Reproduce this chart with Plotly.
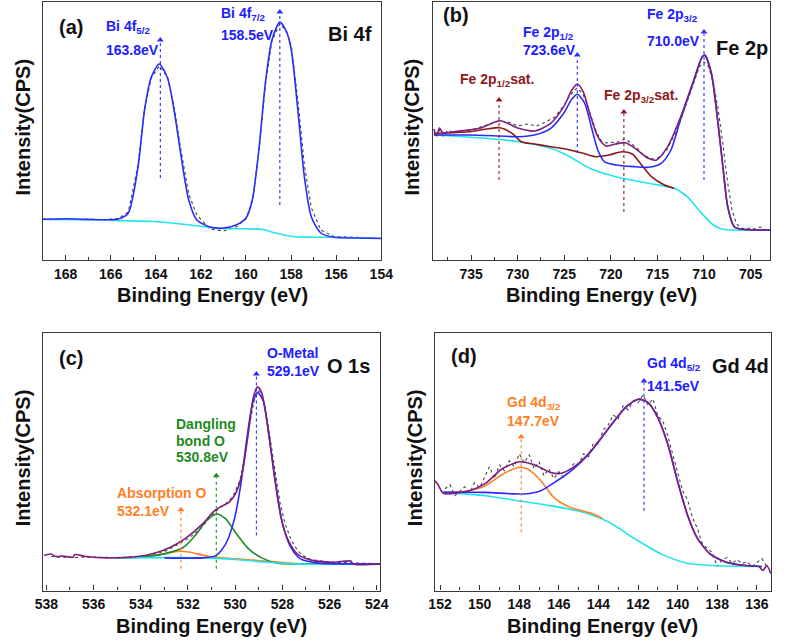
import plotly.graph_objects as go

# ---------------- (a) Bi 4f ----------------
bi_e_fit = [169, 168, 167, 166.2, 165.65, 165.22, 164.79, 164.5, 164.2, 163.85,
            163.48, 163.19, 162.9, 162.54, 162.18, 161.6, 161.0, 160.44, 160.0, 159.72,
            159.43, 159.14, 158.85, 158.5, 158.2, 157.99, 157.7, 157.41, 157.1, 156.68,
            156.1, 155, 154]
bi_fit = [40.7, 41.2, 40.6, 40.3, 41, 47, 93, 150, 183, 196,
          182, 150, 107, 60, 40, 33, 32, 35, 42, 60,
          110, 177, 220, 238, 228, 210, 150, 83, 43, 27,
          22.7, 22, 21.5]
bi_data = [41, 41, 40.5, 40.5, 41.5, 48, 95, 151, 182, 194,
           183, 153, 112, 66, 45, 31, 29, 33, 41, 59,
           108, 175, 219, 236, 229, 214, 160, 95, 52, 30,
           23.5, 22.3, 21.5]
bi_e_bg = [169, 166, 165.8, 164.1, 163.1, 162.47, 161.3, 160.2, 159.29, 158.7, 157.84, 157, 156.1, 154]
bi_bg = [40.5, 40, 39.5, 38.5, 36.5, 35, 31.8, 31.2, 30.7, 27, 23.3, 22.8, 22.7, 21.7]
bi_peaks = [163.8, 158.5]

# ---------------- (b) Fe 2p ----------------
fe_e_sum = [739, 738.7, 738.4, 738.0, 736.9, 734.1, 731.9, 729.9, 728.2, 726.45, 725.06, 724.19, 723.6,
            722.97, 722.27, 721.4, 720.53, 719.48, 718.43, 717.39, 715.99, 715.1, 713.9,
            712.5, 711.1, 710.2, 709.9, 709.2, 708.7, 707.97, 707.45, 706.75, 705.9, 702.9]
fe_sum = [131, 124, 132, 127, 128.3, 131.7, 139.3, 131.7, 129, 136.7, 153.3, 170, 176,
          168.3, 146.7, 123.3, 114, 116, 117.3, 111.7, 101.7, 100, 113.3,
          143.3, 180, 203.3, 205, 186.7, 153.3, 93.3, 53.3, 33.3, 30.7, 30]
fe_e_main = [739, 735.2, 732, 729.9, 728.2, 726.45, 725.06, 724.19, 723.6, 722.8,
             722.1, 721.4, 720.7, 719.48, 717.39, 715.99, 714.6, 713.55, 712.5, 711.1,
             710.2, 709.9, 709.2, 708.7, 707.97, 707.45, 706.75, 705.9, 702.9]
fe_main = [125, 125, 124, 123.3, 125, 131.7, 146.7, 160.7, 165.7, 156.7,
           133.3, 110, 98.3, 95, 93.3, 92.7, 96.7, 110, 141, 179,
           203, 204.5, 186, 153, 93, 53, 33, 30.7, 30]
fe_e_sat = [739, 735.2, 733.5, 731.9, 730.6, 729.6, 728.2, 726.45, 724.7, 722.97,
            721.6, 720.2, 718.8, 717.7, 716.7, 715.65, 714.25, 713.2]
fe_sat = [126.7, 128.3, 130.7, 132.3, 126.7, 118.3, 116, 113.3, 110.7, 106.7,
          103.3, 105, 108.3, 106, 95, 83.3, 75, 71.7]
fe_e_bg = [739, 733.5, 729.9, 726.45, 724.4, 722.27, 719.48, 715.99, 713.2, 711.8, 710.4, 709, 707.97, 702.9]
fe_bg = [125, 121.7, 118.3, 111.7, 103.3, 91.7, 83.3, 76.7, 71.7, 63.3, 48.3, 35, 30.7, 30]
fe_e_data = [738.5, 738, 737.5, 737, 736, 735, 734, 733, 732, 731, 730, 729, 728, 727, 726,
             725, 724.5, 724, 723.6, 723, 722.5, 722, 721.5, 721, 720.5, 720, 719.5, 719, 718.5,
             718, 717.5, 717, 716.5, 716, 715.5, 715, 714.5, 714, 713, 712.5, 712, 711.5, 711,
             710.5, 710, 709.5, 709, 708.5, 708, 707.5, 707, 706.5, 706, 705.5, 705, 704.5, 704,
             703.5, 703]
fe_data = [131, 124, 130, 128, 129, 130, 133, 136, 139, 138, 134, 136, 134, 138, 143,
           155, 163, 169, 172, 166, 155, 140, 127, 119, 117, 118, 117, 119, 121,
           118, 114, 110, 105, 103, 101, 102, 105, 110, 128, 140, 153, 166, 180,
           193, 198, 193, 178, 152, 118, 80, 50, 36, 32, 31, 32, 31, 33,
           31, 30]
fe_peaks = [723.6, 710.0]
fe_sat_peaks = [732.0, 718.6]

# ---------------- (c) O 1s ----------------
o_e_sum = [538.1, 537.8, 537.6, 537.3, 536.87, 536.8, 536.3, 535.49, 534.12, 533.43, 532.74, 532.05, 531.36,
           530.95, 530.67, 530.26, 529.99, 529.71, 529.43, 529.23, 529.05, 528.88, 528.61,
           528.33, 528.06, 527.78, 527.37, 526.82, 525.86, 525.1, 525.0, 523.86]
o_sum = [35, 36.5, 34, 34.5, 33.3, 36, 34, 32.7, 34, 37.3, 43.3, 53.3, 67.3,
         78.3, 83.3, 88.3, 96.7, 116.7, 160, 193.3, 204, 198.3, 163.3,
         113.3, 73.3, 51.7, 36.7, 30.7, 28.3, 29.5, 26.5, 26.7]
o_e_data = [537.8, 537, 536, 535, 534, 533.5, 533, 532.5, 532, 531.5, 531, 530.7, 530.4, 530.1, 529.8,
            529.6, 529.4, 529.2, 529.05, 528.9, 528.7, 528.5, 528.3, 528.1, 527.9, 527.7, 527.5,
            527.2, 526.8, 526, 525, 524]
o_data = [34, 33, 33.5, 33, 34.5, 36, 39, 45, 52, 61, 75, 82, 87, 94, 110,
          133, 165, 190, 200, 198, 180, 150, 118, 88, 68, 55, 45,
          36, 31, 28.5, 27.5, 27]
o_e_metal = [533, 531.36, 530.81, 530.4, 530.05, 529.78, 529.5, 529.27, 529.05, 528.81,
             528.54, 528.26, 527.99, 527.64, 527.23, 526.54, 523.86]
o_metal = [32.7, 32.7, 35, 46.7, 70, 103.3, 153.3, 186.7, 198.3, 190,
           150, 103.3, 66.7, 43.3, 31.7, 27.7, 26.7]
o_e_dang = [535, 534.12, 533.01, 532.19, 531.64, 531.22, 530.77, 530.4, 529.99, 529.43, 528.88, 528.2, 527.23, 525]
o_dang = [32.7, 33.3, 36.7, 43.3, 56.7, 70, 76.7, 71.7, 58.3, 41.7, 32.7, 27.3, 26.7, 26.5]
o_e_abs = [535, 534.8, 533.43, 532.33, 531.91, 531.09, 529.99, 528.61, 527.23, 525]
o_abs = [32.7, 32.7, 35, 39.3, 38.3, 34, 31.7, 29.3, 26.7, 26.5]
o_e_bg = [535.08, 531.36, 529.99, 528.61, 527.51, 526.5, 524]
o_bg = [32.7, 32.7, 31, 28.3, 26.7, 26.3, 26]
o_peaks = [529.1, 530.8, 532.3]

# ---------------- (d) Gd 4d ----------------
gd_e_sum = [152.25, 152.1, 151.83, 150.52, 149.7, 148.88, 147.98, 147.24, 146.42, 145.92,
            145.27, 144.45, 143.46, 142.64, 141.98, 141.49, 141, 140.5, 140.01, 139.52,
            139.03, 138.37, 137.55, 136.57, 135.9, 135.7, 135.5, 135.3]
gd_sum = [110, 106, 97.3, 100, 107.3, 121.7, 129, 126, 118.3, 117.3,
          123.3, 138.3, 163.3, 183.3, 191.7, 188.3, 173.3, 146.7, 110, 76.7,
          53.3, 36.7, 28.3, 25, 24, 20, 25, 17]
gd_e_52 = [151.83, 149.7, 147.73, 146.91, 146.09, 145.27, 144.45, 143.46, 142.64, 141.98,
           141.49, 141, 140.5, 140.01, 139.52, 139.03, 138.37, 137.55, 136.57, 135.75]
gd_52 = [98.3, 98.3, 96.7, 100, 110, 121.7, 137.5, 163, 183.3, 191.7,
         188.3, 173.3, 146.7, 110, 76.7, 53.3, 36.7, 28.3, 25, 24]
gd_e_32 = [151.83, 150.52, 149.7, 148.88, 148.06, 147.57, 146.91, 146.26, 145.43, 144.28, 143.8]
gd_32 = [98.3, 100, 105, 116, 123.3, 121.7, 110, 93.3, 83.3, 77, 72]
gd_e_bg = [151.9, 149.7, 148.06, 146.42, 144.78, 143.46, 142.15, 140.84, 139.52, 138.21, 135.75]
gd_bg = [98.3, 95, 90, 85, 78.3, 68.3, 51.7, 36.7, 27.3, 25, 24]
gd_e_data = [151.75, 151.5, 151.25, 151.0, 150.75, 150.5, 150.25, 150.0, 149.75, 149.5, 149.25, 149.0,
             148.75, 148.5, 148.25, 148.0, 147.75, 147.5, 147.25, 147.0, 146.75, 146.5, 146.25, 146.0,
             145.75, 145.5, 145.25, 145.0, 144.75, 144.5, 144.25, 144.0, 143.75, 143.5, 143.25, 143.0,
             142.75, 142.5, 142.25, 142.0, 141.75, 141.5, 141.25, 141.0, 140.75, 140.5, 140.25, 140.0,
             139.75, 139.5, 139.25, 139.0, 138.75, 138.5, 138.25, 138.0, 137.75, 137.5, 137.25, 137.0,
             136.75, 136.5, 136.25, 136.0, 135.75, 135.5]
gd_data = [102, 106, 95, 100, 104, 98, 108, 103, 113, 124, 112, 126,
           120, 130, 124, 137, 128, 136, 122, 129, 115, 122, 112, 119,
           113, 120, 127, 126, 137, 134, 148, 147, 161, 166, 176, 172,
           185, 181, 190, 188, 196, 186, 192, 175, 170, 155, 137, 118,
           100, 91, 73, 62, 47, 42, 38, 24, 31, 33, 27, 31,
           27, 29, 24, 28, 32, 24]
gd_peaks = [141.7, 147.9]

# ---------------- styling ----------------
FONT = "Liberation Sans, Arial, sans-serif"
BLUE = "#2b2bff"
BLUE_TXT = "#2020ff"
PURPLE = "#7d1f7d"
BROWN = "#8b1a1a"
CYAN = "#22e3f0"
GREEN = "#1f8a1f"
ORANGE = "#ff7f24"
DOTS = "#444444"

fig = go.Figure()


def sfx(n):
    return "" if n == 1 else str(n)


def curve(n, x, y, color, width=1.6, data=False):
    line = dict(color=color, width=width)
    if data:
        line.update(dash="dot", width=1.1)
    else:
        line.update(shape="spline", smoothing=0.7)
    fig.add_trace(go.Scatter(x=x, y=y, mode="lines", line=line, xaxis="x" + sfx(n), yaxis="y" + sfx(n),
                             showlegend=False, hoverinfo="skip"))


def mark(n, pos, lo, hi, color):
    # dotted guide line at peak position with a small arrow head on top
    fig.add_trace(go.Scatter(x=[pos, pos], y=[lo, hi], mode="lines", line=dict(color=color, width=1.1, dash="dot"),
                             xaxis="x" + sfx(n), yaxis="y" + sfx(n), showlegend=False, hoverinfo="skip"))
    fig.add_trace(go.Scatter(x=[pos], y=[hi + 2], mode="markers", marker=dict(symbol="triangle-up", size=6, color=color),
                             xaxis="x" + sfx(n), yaxis="y" + sfx(n), showlegend=False, hoverinfo="skip"))


def label(n, x, y, text, color, size=14, anchor="left"):
    fig.add_annotation(x=x, y=y, xref="x" + sfx(n), yref="y" + sfx(n), text="<b>" + text + "</b>",
                       showarrow=False, xanchor=anchor, yanchor="middle",
                       font=dict(family=FONT, size=size, color=color))


# (a)
curve(1, bi_e_fit, bi_data, DOTS, data=True)
curve(1, bi_e_bg, bi_bg, CYAN)
curve(1, bi_e_fit, bi_fit, BLUE)
mark(1, bi_peaks[0], 82, 218, BLUE)
mark(1, bi_peaks[1], 55, 246, BLUE)
label(1, 167.75, 233, "(a)", "#111", size=20, anchor="center")
label(1, 155.4, 226, "Bi 4f", "#111", size=20, anchor="center")
label(1, 166.3, 233, "Bi 4f<sub>5/2</sub>", BLUE_TXT)
label(1, 166.3, 210, f"{bi_peaks[0]}eV", BLUE_TXT)
label(1, 161.2, 246.5, "Bi 4f<sub>7/2</sub>", BLUE_TXT)
label(1, 161.2, 225, f"{bi_peaks[1]}eV", BLUE_TXT)

# (b)
curve(2, fe_e_data, fe_data, DOTS, data=True)
curve(2, fe_e_bg, fe_bg, CYAN)
curve(2, fe_e_sat, fe_sat, BROWN)
curve(2, fe_e_main, fe_main, BLUE)
curve(2, fe_e_sum, fe_sum, PURPLE)
mark(2, fe_sat_peaks[0], 80, 158, BROWN)
mark(2, fe_peaks[0], 107, 203, BLUE)
mark(2, fe_sat_peaks[1], 48, 146, BROWN)
mark(2, fe_peaks[1], 80, 226, BLUE)
label(2, 736.6, 245, "(b)", "#111", size=20, anchor="center")
label(2, 705.9, 211.7, "Fe 2p", "#111", size=20, anchor="center")
label(2, 729.6, 226.7, "Fe 2p<sub>1/2</sub>", BLUE_TXT)
label(2, 729.6, 210, f"{fe_peaks[0]}eV", BLUE_TXT)
label(2, 716.35, 245, "Fe 2p<sub>3/2</sub>", BLUE_TXT)
label(2, 716.35, 219.3, f"{fe_peaks[1]:.1f}eV", BLUE_TXT)
label(2, 736.4, 180, "Fe 2p<sub>1/2</sub>sat.", BROWN)
label(2, 720.9, 164.3, "Fe 2p<sub>3/2</sub>sat.", BROWN)

# (c)
curve(3, o_e_data, o_data, DOTS, data=True)
curve(3, o_e_abs, o_abs, ORANGE)
curve(3, o_e_dang, o_dang, GREEN)
curve(3, o_e_bg, o_bg, CYAN)
curve(3, o_e_metal, o_metal, BLUE)
curve(3, o_e_sum, o_sum, PURPLE)
mark(3, o_peaks[0], 55, 215, BLUE)
mark(3, o_peaks[1], 21.7, 113, GREEN)
mark(3, o_peaks[2], 21.7, 79, ORANGE)
label(3, 536.94, 233.3, "(c)", "#111", size=20, anchor="center")
label(3, 525.2, 225, "O 1s", "#111", size=20, anchor="center")
label(3, 528.75, 237.7, "O-Metal", BLUE_TXT)
label(3, 528.75, 220, "529.1eV", BLUE_TXT)
label(3, 532.6, 166.7, "Dangling", GREEN)
label(3, 532.6, 150, "bond O", GREEN)
label(3, 532.6, 133.3, "530.8eV", GREEN)
label(3, 535.08, 97.7, "Absorption O", ORANGE)
label(3, 535.08, 80, "532.1eV", ORANGE)

# (d)
curve(4, gd_e_data, gd_data, DOTS, data=True)
curve(4, gd_e_bg, gd_bg, CYAN)
curve(4, gd_e_32, gd_32, ORANGE)
curve(4, gd_e_52, gd_52, BLUE)
curve(4, gd_e_sum, gd_sum, PURPLE)
mark(4, gd_peaks[0], 80, 208, BLUE)
mark(4, gd_peaks[1], 58.3, 152, ORANGE)
label(4, 150.8, 235, "(d)", "#111", size=20, anchor="center")
label(4, 136.8, 225, "Gd 4d", "#111", size=20, anchor="center")
label(4, 141.66, 226.7, "Gd 4d<sub>5/2</sub>", BLUE_TXT)
label(4, 141.66, 205, "141.5eV", BLUE_TXT)
label(4, 148.72, 188.3, "Gd 4d<sub>3/2</sub>", ORANGE)
label(4, 148.72, 170, "147.7eV", ORANGE)

# axes
panels = [
    # x domain, y domain, x range, dtick, minor dtick
    ([36 / 787, 383 / 787], [1 - 260 / 641, 1 - 2 / 641], [169, 154], 2, 1),
    ([436 / 787, 782 / 787], [1 - 260 / 641, 1 - 2 / 641], [739.1, 702.9], 5, 2.5),
    ([36 / 787, 382 / 787], [1 - 590.5 / 641, 1 - 333 / 641], [538.14, 523.85], 2, 1),
    ([438 / 787, 783 / 787], [1 - 590.5 / 641, 1 - 333 / 641], [152.26, 135.28], 2, 1),
]
layout = {}
for i, (xd, yd, xr, dt, mdt) in enumerate(panels, start=1):
    s = sfx(i)
    layout["xaxis" + s] = dict(
        domain=xd, range=xr, anchor="y" + s, dtick=dt, ticks="inside", ticklen=5, tickwidth=1.2,
        tickcolor="#333", minor=dict(dtick=mdt, ticks="inside", ticklen=3, tickwidth=1, tickcolor="#333"),
        showgrid=False, zeroline=False, showline=True, linecolor="#3a3a3a", linewidth=1.3, mirror=True,
        tickfont=dict(family=FONT, size=14, color="#111", weight="bold"), ticklabelstandoff=1,
    )
    layout["yaxis" + s] = dict(
        domain=yd, range=[0, 258], anchor="x" + s, showticklabels=False, ticks="", showgrid=False,
        zeroline=False, showline=True, linecolor="#3a3a3a", linewidth=1.3, mirror=True,
    )

    # axis titles
    fig.add_annotation(x=(xd[0] + xd[1]) / 2, y=yd[0] - 35 / 641, xref="paper", yref="paper",
                       text="<b>Binding Energy (eV)</b>", showarrow=False, xanchor="center", yanchor="middle",
                       font=dict(family=FONT, size=20, color="#111"))
    fig.add_annotation(x=xd[0] - 21 / 787, y=(yd[0] + yd[1]) / 2 + 4 / 641, xref="paper", yref="paper",
                       text="<b>Intensity(CPS)</b>", showarrow=False, textangle=-90, xanchor="center",
                       yanchor="middle", font=dict(family=FONT, size=20, color="#111"))

fig.update_layout(
    width=787, height=641, margin=dict(l=0, r=0, t=0, b=0),
    paper_bgcolor="white", plot_bgcolor="white", showlegend=False,
    **layout,
)

# drop the default page margin so the figure sits at the window's top-left corner
fig.write_html("out.html", config={"displayModeBar": False},
               post_script="document.body.style.margin='0px'; document.body.style.overflow='hidden';")
